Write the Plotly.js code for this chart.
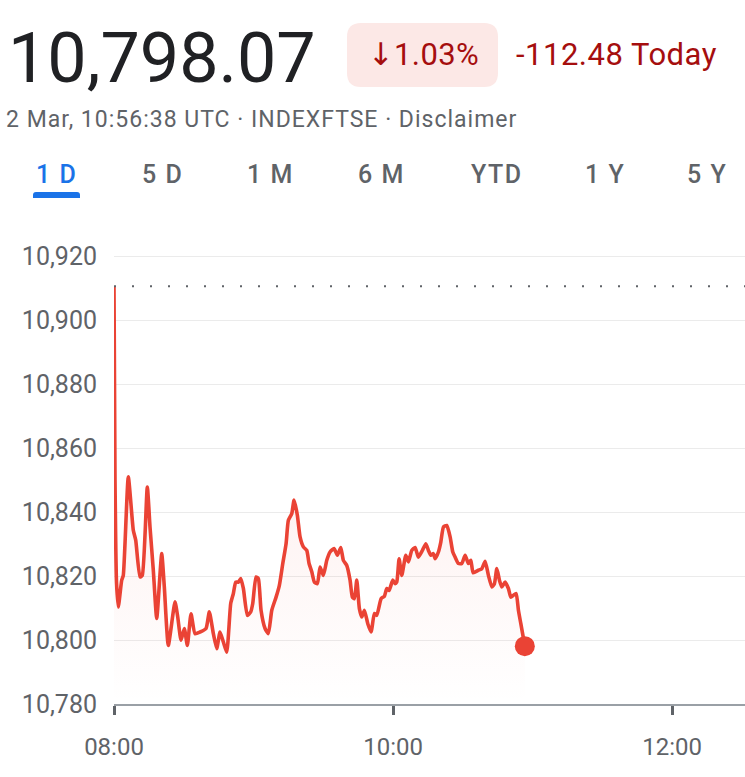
<!DOCTYPE html>
<html>
<head>
<meta charset="utf-8">
<script src="https://cdn.plot.ly/plotly-3.0.1.min.js"></script>
<style>
  html, body { margin: 0; padding: 0; background: #ffffff; }
  #chart { width: 745px; height: 777px; }
</style>
</head>
<body>
<div id="chart"></div>
<script>
// ---------------- DATA ----------------
const tradeDate = "2026-03-02";
const times = [
  "08:00:00","08:00:26","08:01:05","08:01:51","08:03:19","08:04:00","08:06:09","08:08:18","08:09:20",
  "08:11:11","08:12:10","08:14:19","08:15:29","08:16:54","08:18:22","08:20:31","08:21:38","08:23:21",
  "08:26:14","08:27:24","08:28:49","08:30:14","08:31:32","08:33:07","08:34:50","08:36:59","08:39:34",
  "08:40:59","08:42:43","08:44:10","08:45:35","08:47:01","08:48:28","08:50:11","08:51:19","08:52:20",
  "08:53:28","08:54:29","08:55:37","08:57:20","08:58:47","08:59:39","09:01:04","09:02:04","09:03:13",
  "09:04:57","09:06:22","09:07:50","09:09:41","09:11:06","09:12:34","09:13:59","09:14:58","09:16:26",
  "09:17:25","09:18:50","09:20:00","09:21:25","09:22:53","09:23:52","09:25:02","09:26:09","09:27:26",
  "09:28:36","09:30:01","09:31:29","09:32:54","09:34:37","09:36:02","09:37:30","09:38:37","09:40:05",
  "09:41:30","09:42:29","09:43:21","09:44:23","09:45:30","09:46:32","09:47:39","09:49:07","09:50:32",
  "09:51:57","09:52:59","09:54:50","09:56:16","09:57:17","09:58:17","09:59:52","10:00:52","10:01:35",
  "10:02:35","10:03:44","10:05:28","10:06:35","10:08:02","10:09:28","10:10:53","10:12:36","10:14:04",
  "10:15:11","10:16:13","10:17:20","10:18:04","10:19:29","10:20:31","10:21:38","10:23:05","10:24:31",
  "10:25:40","10:26:40","10:28:05","10:29:33","10:30:58","10:32:23","10:33:25","10:34:25","10:36:41",
  "10:38:09","10:39:34","10:40:59","10:42:27","10:43:34","10:44:36","10:45:43","10:46:45","10:48:10",
  "10:49:35","10:50:37","10:51:44","10:52:54","10:53:53","10:54:55","10:56:38"
];
const prices = [
  10910.55,10850,10818,10810.3,10818.7,10820.2,10851,10834.3,10831.2,
  10819.7,10820.2,10847.8,10835.3,10821.8,10806.7,10827,10816.6,10798.3,
  10811.9,10807.2,10799.9,10803.6,10798.3,10808.2,10802,10802.5,10803.6,
  10808.8,10802,10797.3,10802.5,10799.4,10796.2,10811.4,10814.5,10818.1,
  10818.1,10819.2,10816.1,10807.7,10808.8,10811.4,10819.7,10819.2,10809.3,
  10803.6,10802,10809.3,10813.4,10817.1,10823.9,10830.1,10837.4,10839.5,
  10843.7,10839,10832.2,10829.1,10828,10823.9,10821.3,10818.1,10817.6,
  10822.8,10820.2,10824.9,10827.5,10828.6,10826.5,10828.9,10824.9,10823.3,
  10818.7,10813.4,10812.9,10818.7,10809.8,10807.2,10809.3,10805.1,10802.5,
  10808.3,10807.7,10812.9,10813.7,10816.1,10815.5,10818.7,10817.6,10818.1,
  10825.4,10820.2,10826.5,10824.4,10828,10828.9,10825.9,10828,10830.1,
  10828,10826.5,10827,10825.4,10827.5,10830.6,10835.3,10835.8,10832.2,
  10827.5,10825.9,10823.9,10823.9,10826.5,10823.9,10824.9,10821,10821.8,
  10822.3,10824.6,10820.2,10816.6,10817.6,10822.3,10818.7,10816.6,10818.1,
  10816.1,10813.4,10814,10814.5,10809.3,10805.1,10798.07
];
const previousClose = 10910.55;
const lastPrice = "10,798.07";
const changeArrow = "↓";
const pctChange = "1.03%";
const absChange = "-112.48 Today";
const subtitle = "2 Mar, 10:56:38 UTC · INDEXFTSE · Disclaimer";
const tabLabels = ["1 D", "5 D", "1 M", "6 M", "YTD", "1 Y", "5 Y"];
const xTickLabels = ["08:00", "10:00", "12:00"];
const yTickValues = [10780, 10800, 10820, 10840, 10860, 10880, 10900, 10920];

// ---------------- LAYOUT HELPERS ----------------
const W = 745, H = 777;
const M = { l: 114, r: 0, t: 240, b: 73 };
const plotW = W - M.l - M.r, plotH = H - M.t - M.b;
const px = xp => (xp - M.l) / plotW;
const py = yp => (H - M.b - yp) / plotH;

function roundRectPath(x0, y0, x1, y1, r, topOnly) {
  const P = (x, y) => px(x).toFixed(5) + "," + py(y).toFixed(5);
  const rb = topOnly ? 0 : r;
  return "M" + P(x0 + r, y0) + " L" + P(x1 - r, y0) + " Q" + P(x1, y0) + " " + P(x1, y0 + r) +
    " L" + P(x1, y1 - rb) + " Q" + P(x1, y1) + " " + P(x1 - rb, y1) +
    " L" + P(x0 + rb, y1) + " Q" + P(x0, y1) + " " + P(x0, y1 - rb) +
    " L" + P(x0, y0 + r) + " Q" + P(x0, y0) + " " + P(x0 + r, y0) + " Z";
}
const spaced = (t, ls) => '<span style="letter-spacing:' + ls + 'px">' + t + '</span>';

const xs = times.map(t => tradeDate + " " + t);
const RED = "#ea4335";
const GREY = "#5f6368";
const FONT = "Roboto, 'Noto Sans', sans-serif";

const lineTrace = {
  type: "scatter", mode: "lines", x: xs, y: prices,
  line: { color: RED, width: 3.6, shape: "spline", smoothing: 0.5 },
  fill: "tozeroy",
  fillgradient: {
    type: "vertical", start: 10780, stop: 10850,
    colorscale: [[0, "rgba(234,67,53,0)"], [1, "rgba(234,67,53,0.07)"]]
  },
  hoverinfo: "skip"
};
const dotTrace = {
  type: "scatter", mode: "markers",
  x: [xs[xs.length - 1]], y: [prices[prices.length - 1]],
  marker: { color: RED, size: 20 }, cliponaxis: false, hoverinfo: "skip"
};

const tabCenters = [56, 162, 270, 381, 497, 605, 707];
const annotations = [
  { text: lastPrice, x: px(6), y: py(58), xanchor: "left", yanchor: "middle",
    font: { family: FONT, size: 70, color: "#202124" } },
  { text: '<span style="font-family:\'DejaVu Sans\'">' + changeArrow + '</span>' + spaced(pctChange, 0.4),
    x: px(366), y: py(55), xanchor: "left", yanchor: "middle",
    font: { family: FONT, size: 31, color: "#a50e0e" } },
  { text: spaced(absChange, 0.5), x: px(514), y: py(55), xanchor: "left", yanchor: "middle",
    font: { family: FONT, size: 31, color: "#a50e0e" } },
  { text: spaced(subtitle, 1), x: px(4), y: py(119), xanchor: "left", yanchor: "middle",
    font: { family: FONT, size: 23, color: GREY } }
].concat(tabLabels.map((t, i) => ({
  text: spaced(t, 1.5), x: px(tabCenters[i]), y: py(175), xanchor: "center", yanchor: "middle",
  font: { family: FONT, size: 25, weight: 500, color: i === 0 ? "#1a73e8" : GREY }
}))).map(a => Object.assign({ xref: "paper", yref: "paper", showarrow: false }, a));

const shapes = [
  { type: "path", xref: "paper", yref: "paper", path: roundRectPath(347, 23, 498, 87, 14, false),
    fillcolor: "#fce8e6", line: { width: 0 }, layer: "below" },
  { type: "path", xref: "paper", yref: "paper", path: roundRectPath(33, 192, 80, 198, 3, true),
    fillcolor: "#1a73e8", line: { width: 0 }, layer: "below" },
  { type: "line", xref: "paper", yref: "y", x0: 0, x1: 1, y0: previousClose, y1: previousClose,
    line: { color: GREY, width: 2, dash: "2px,16px" }, layer: "above" }
];

const layout = {
  width: W, height: H,
  margin: { l: M.l, r: M.r, t: M.t, b: M.b, pad: 0 },
  paper_bgcolor: "#ffffff", plot_bgcolor: "#ffffff",
  showlegend: false,
  font: { family: FONT, color: GREY },
  xaxis: {
    type: "date",
    range: [tradeDate + " 08:00:00", tradeDate + " 12:31:18"],
    tickvals: xTickLabels.map(t => tradeDate + " " + t),
    ticktext: xTickLabels,
    showgrid: false, zeroline: false,
    showline: true, linecolor: "#9aa0a6", linewidth: 2,
    ticks: "outside", ticklen: 9, tickwidth: 3, tickcolor: GREY,
    ticklabelstandoff: 11,
    tickfont: { family: FONT, size: 24, color: GREY },
    fixedrange: true
  },
  yaxis: {
    range: [10780, 10925],
    tickvals: yTickValues,
    tickformat: ",d",
    showgrid: true, gridcolor: "#ebebeb", gridwidth: 1,
    zeroline: false, showline: false, ticks: "",
    ticklabelstandoff: 16,
    tickfont: { family: FONT, size: 25, color: GREY },
    fixedrange: true
  },
  annotations: annotations,
  shapes: shapes
};

Plotly.newPlot("chart", [lineTrace, dotTrace], layout, { displayModeBar: false, staticPlot: true });
</script>
</body>
</html>
